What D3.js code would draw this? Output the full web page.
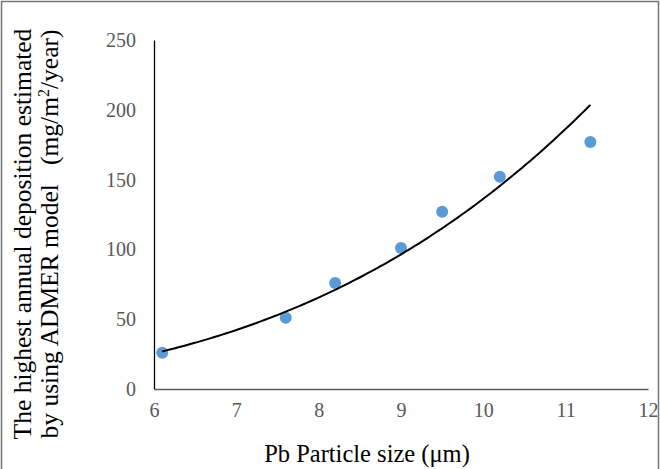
<!DOCTYPE html>
<html>
<head>
<meta charset="utf-8">
<script src="https://cdn.jsdelivr.net/npm/d3@7"></script>
<style>
  html, body { margin: 0; padding: 0; background: #fff; }
  svg { display: block; }
  svg text { font-family: "Liberation Serif", "Times New Roman", Times, serif; }
</style>
</head>
<body>
<svg id="chart" width="660" height="469"></svg>
<script>
// Pb particle size (µm) vs. highest annual deposition (mg/m²/year)
const particleSize = [6.1, 7.6, 8.2, 9.0, 9.5, 10.2, 11.3];
const deposition   = [26, 51, 76, 101, 127, 152, 177];
const xTicks = [6, 7, 8, 9, 10, 11, 12];
const yTicks = [0, 50, 100, 150, 200, 250];

const svg = d3.select("#chart");
const W = 660, H = 469;
const plot = { left: 154, right: 648, top: 40, bottom: 389 };

const x = d3.scaleLinear().domain([6, 12]).range([plot.left, plot.right]);
const y = d3.scaleLinear().domain([0, 250]).range([plot.bottom, plot.top]);

// outer frame
svg.append("rect")
  .attr("x", 1.5).attr("y", 1.5)
  .attr("width", W - 3).attr("height", H + 10)
  .attr("fill", "#fff").attr("stroke", "#767676").attr("stroke-width", 1.5);

// y axis
const yAxis = svg.append("g")
  .attr("transform", `translate(${plot.left},0)`)
  .call(d3.axisLeft(y).tickValues(yTicks).tickFormat(d3.format("d"))
    .tickSize(0).tickPadding(18));
yAxis.attr("font-family", null);
yAxis.select(".domain").attr("stroke", "#000").attr("stroke-width", 1.3);
yAxis.selectAll("text")
  .style("font-size", "20px").attr("fill", "#595959");

// x axis
const xAxis = svg.append("g")
  .attr("transform", `translate(0,${plot.bottom})`)
  .call(d3.axisBottom(x).tickValues(xTicks).tickFormat(d3.format("d"))
    .tickSize(0).tickPadding(14));
xAxis.attr("font-family", null);
xAxis.select(".domain").attr("stroke", "#595959").attr("stroke-width", 1.3);
xAxis.selectAll("text")
  .style("font-size", "20px").attr("fill", "#595959");

// power trendline y = a·x^b, least squares in log–log space
const lx = particleSize.map(Math.log), ly = deposition.map(Math.log);
const mx = d3.mean(lx), my = d3.mean(ly);
const b = d3.sum(lx, (v, i) => (v - mx) * (ly[i] - my)) / d3.sum(lx, v => (v - mx) ** 2);
const a = Math.exp(my - b * mx);
const xMin = d3.min(particleSize), xMax = d3.max(particleSize);
const trend = d3.range(0, 101).map(i => {
  const xv = xMin + (xMax - xMin) * i / 100;
  return [xv, a * Math.pow(xv, b)];
});

// markers
svg.append("g").selectAll("circle")
  .data(particleSize.map((v, i) => [v, deposition[i]]))
  .join("circle")
  .attr("cx", d => x(d[0])).attr("cy", d => y(d[1]))
  .attr("r", 6).attr("fill", "#5B9BD5");

svg.append("path")
  .datum(trend)
  .attr("fill", "none").attr("stroke", "#000").attr("stroke-width", 2)
  .attr("d", d3.line().x(d => x(d[0])).y(d => y(d[1])));

// axis titles
svg.append("text")
  .attr("x", 367).attr("y", 462)
  .attr("text-anchor", "middle")
  .style("font-size", "24.5px").attr("fill", "#000")
  .text("Pb Particle size (μm)");

const yt = svg.append("text")
  .attr("transform", "translate(0,234) rotate(-90)")
  .attr("text-anchor", "middle")
  .style("font-size", "25.5px").attr("fill", "#000");
yt.append("tspan").attr("x", 0).attr("y", 31)
  .text("The highest annual deposition estimated");
yt.append("tspan").attr("x", 0).attr("y", 58)
  .text("by using ADMER model\u00A0\u00A0\u00A0(mg/m");
yt.append("tspan").attr("dy", -9).style("font-size", "16px").text("2");
yt.append("tspan").attr("dy", 9).text("/year)");
</script>
</body>
</html>
